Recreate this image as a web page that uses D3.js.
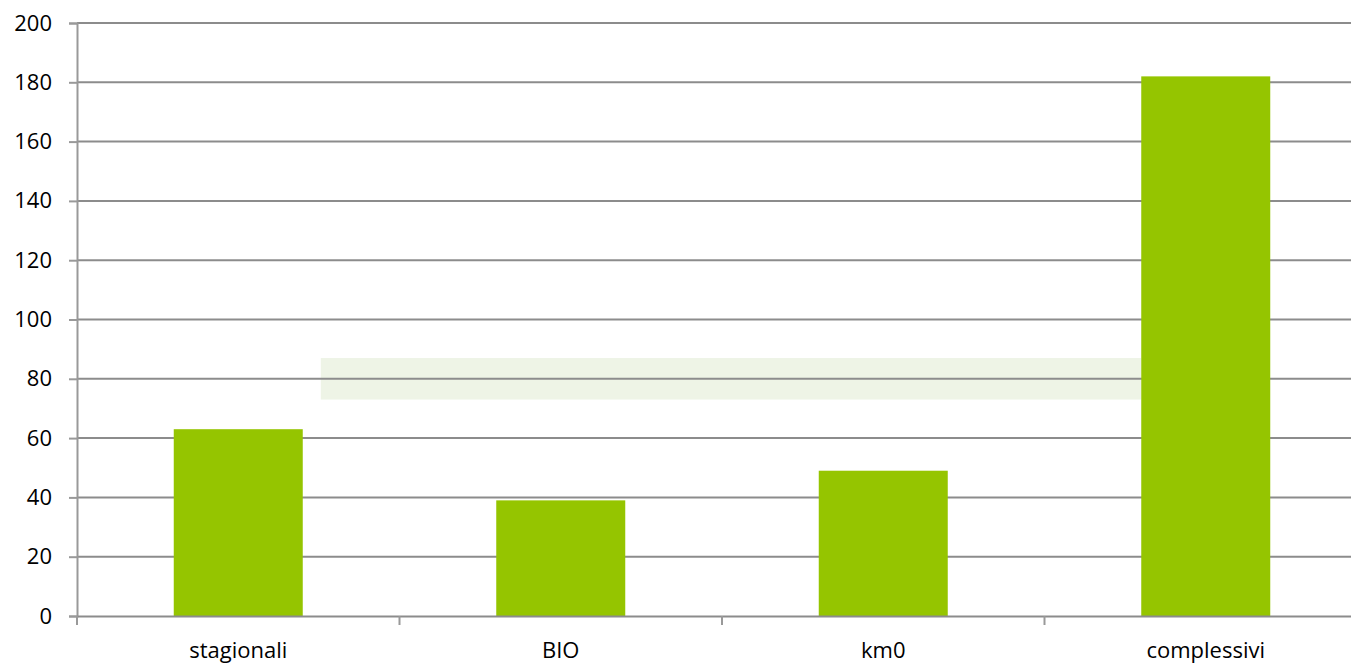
<!DOCTYPE html>
<html><head><meta charset="utf-8">
<script src="https://cdn.jsdelivr.net/npm/d3@7"></script>
<style>
html,body{margin:0;padding:0;background:#fff;overflow:hidden}
svg{display:block}
text{font-family:"Open Sans","Liberation Sans",sans-serif;fill:#000}
</style></head>
<body>
<svg id="c" width="1351" height="664"></svg>
<script>
const categories = ["stagionali", "BIO", "km0", "complessivi"];
const values = [63, 39, 49, 182];
const yTicks = [0, 20, 40, 60, 80, 100, 120, 140, 160, 180, 200];
const bandRange = [73, 87]; // light highlighted strip in the reference (value units)

(function () {
const svg = d3.select("#c");
const mL = 77, mR = 1367, mT = 23, mB = 616;

const x = d3.scaleBand().domain(categories).range([mL, mR]).paddingInner(0.6).paddingOuter(0.3);
const xb = d3.scaleBand().domain(categories).range([mL, mR]);
const y = d3.scaleLinear().domain([0, 200]).range([mB, mT]);

// highlight strip
const sx = xb("stagionali") + xb.bandwidth() * 0.756;
svg.append("rect")
  .attr("x", sx)
  .attr("width", x("complessivi") - sx)
  .attr("y", y(bandRange[1])).attr("height", y(bandRange[0]) - y(bandRange[1]))
  .attr("fill", "#eef4e6");

// gridlines
svg.append("g").selectAll("line").data(yTicks.slice(1)).join("line")
  .attr("x1", mL).attr("x2", 1351)
  .attr("y1", d => y(d)).attr("y2", d => y(d))
  .attr("stroke", "#8c8c8c").attr("stroke-width", 2);

// y axis
const ya = svg.append("g").attr("transform", `translate(${mL},0)`)
  .call(d3.axisLeft(y).tickValues(yTicks).tickSize(8).tickPadding(17));
ya.select(".domain").attr("stroke", "#999").attr("stroke-width", 2);
ya.selectAll(".tick line").attr("stroke", "#999").attr("stroke-width", 2);
ya.selectAll(".tick text").attr("font-size", 22).attr("font-family", "'Open Sans','Liberation Sans',sans-serif").attr("fill", "#000");

// bars
svg.append("g").selectAll("rect").data(values).join("rect")
  .attr("x", (d, i) => x(categories[i]))
  .attr("width", x.bandwidth())
  .attr("y", d => y(d))
  .attr("height", d => y(0) - y(d))
  .attr("fill", "#95c500");

// x axis
const xa = svg.append("g").attr("transform", `translate(0,${mB})`)
  .call(d3.axisBottom(xb).tickSize(0).tickPadding(0));
xa.select(".domain").attr("stroke", "#8c8c8c").attr("stroke-width", 2);
xa.selectAll(".tick line").remove();
xa.selectAll(".tick text").attr("y", 35).attr("dy", "0.32em").attr("font-size", 22)
  .attr("font-family", "'Open Sans','Liberation Sans',sans-serif").attr("fill", "#000");
// category separators
const seps = [mL].concat(categories.slice(1).map(c => xb(c)));
svg.append("g").selectAll("line").data(seps).join("line")
  .attr("x1", d => d).attr("x2", d => d)
  .attr("y1", mB).attr("y2", mB + 9)
  .attr("stroke", "#999").attr("stroke-width", 2);
})();
</script>
</body></html>
